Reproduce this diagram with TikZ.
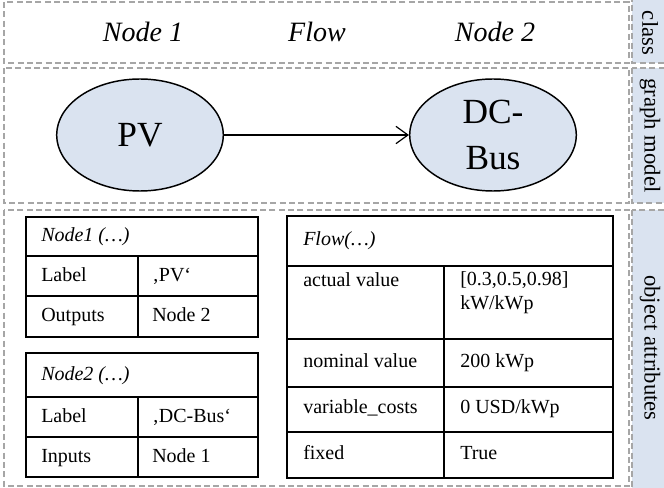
\documentclass[tikz,border=0pt]{standalone}
\usepackage{fontspec}
\setmainfont{Liberation Serif}
\usepackage{xcolor}
\usepackage{tikz}
\usetikzlibrary{arrows.meta, positioning, shapes.geometric}
\definecolor{hellblau}{HTML}{DAE3F0}
\definecolor{strichgrau}{HTML}{A6A6A6}
\tikzset{
  every picture/.style={x=0.75pt, y=-0.75pt},
  rowbox/.style={draw=strichgrau, line width=0.8pt, dash pattern=on 4.5pt off 2.5pt},
  sidebox/.style={rowbox, fill=hellblau},
  sidelabel/.style={rotate=-90, inner sep=0pt, font=\fontsize{17}{20}\selectfont},
  classlabel/.style={inner sep=0pt, font=\fontsize{21}{25}\selectfont\itshape},
  gnode/.style={ellipse, draw, fill=hellblau, line width=1.1pt, inner sep=0pt,
              minimum width=125pt, minimum height=84pt, align=center,
              font=\fontsize{26.5}{34}\selectfont},
  flowarrow/.style={-{Straight Barb[length=9pt, width=13pt]}, line width=0.9pt},
  tab/.style={line width=1.3pt},
  cell/.style={anchor=base west, inner sep=0pt, font=\fontsize{15}{18}\selectfont},
  celltop/.style={cell, anchor=north west, align=left},
  head/.style={cell, font=\fontsize{15}{18}\selectfont\itshape},
}

\begin{document}
\begin{tikzpicture}
  \useasboundingbox (0,0) rectangle (664,488);
  % row frames and side tabs
  \draw[rowbox] (4,2) rectangle (629,63);
  \draw[rowbox] (4,68) rectangle (629,203);
  \draw[rowbox] (4,210) rectangle (629,486);
  \draw[sidebox] (632,-4) rectangle (672,63);
  \draw[sidebox] (632,68) rectangle (672,203);
  \draw[sidebox] (632,210) rectangle (672,494);
  \node[sidelabel] (sclass) at (650,33) {class};
  \node[sidelabel] (sgraph) at (650,135.5) {graph model};
  \node[sidelabel] (sattr) at (650,348) {object attributes};

  % class row
  \node[classlabel] (cnode1) at (143,32) {Node 1};
  \node[classlabel] (cflow) at (317,32) {Flow};
  \node[classlabel] (cnode2) at (495,32) {Node 2};

  % graph model
  \node[gnode] (pv) at (140,135) {PV};
  \node[gnode] (dcbus) at (493,135) {DC-\\Bus};
  \draw[flowarrow] (pv) -- (dcbus);

  % Node1 table
  \draw[tab] (26,217) rectangle (258,337);
  \draw[tab] (26,256) -- (258,256);
  \draw[tab] (26,296) -- (258,296);
  \draw[tab] (138,256) -- (138,337);
  \node[head] (n1h) at (41,242) {Node1 (…)};
  \node[cell] (n1la) at (41,281.5) {Label};
  \node[cell] (n1lv) at (152,281.5) {‚PV‘};
  \node[cell] (n1oa) at (41,322) {Outputs};
  \node[cell] (n1ov) at (152,322) {Node 2};

  % Node2 table
  \draw[tab] (26,353) rectangle (258,477);
  \draw[tab] (26,397) -- (258,397);
  \draw[tab] (26,437) -- (258,437);
  \draw[tab] (138,397) -- (138,477);
  \node[head] (n2h) at (41,380.5) {Node2 (…)};
  \node[cell] (n2la) at (41,422.5) {Label};
  \node[cell] (n2lv) at (152,422.5) {‚DC-Bus‘};
  \node[cell] (n2ia) at (41,462.5) {Inputs};
  \node[cell] (n2iv) at (152,462.5) {Node 1};

  % Flow table
  \draw[tab] (287,216) rectangle (613,478);
  \draw[tab] (287,266) -- (613,266);
  \draw[tab] (287,339) -- (613,339);
  \draw[tab] (287,387) -- (613,387);
  \draw[tab] (287,432) -- (613,432);
  \draw[tab] (444,266) -- (444,478);
  \node[head] (fh) at (303,246) {Flow(…)};
  \node[celltop] (fava) at (303,272) {actual value};
  \node[celltop] (favv) at (460,271) {[0.3,0.5,0.98]\\kW/kWp};
  \node[cell] (fnva) at (303,367) {nominal value};
  \node[cell] (fnvv) at (460,367) {200 kWp};
  \node[cell] (fvca) at (303,413.5) {variable\_costs};
  \node[cell] (fvcv) at (460,413.5) {0 USD/kWp};
  \node[cell] (ffxa) at (303,459) {fixed};
  \node[cell] (ffxv) at (460,459) {True};
\end{tikzpicture}
\end{document}
